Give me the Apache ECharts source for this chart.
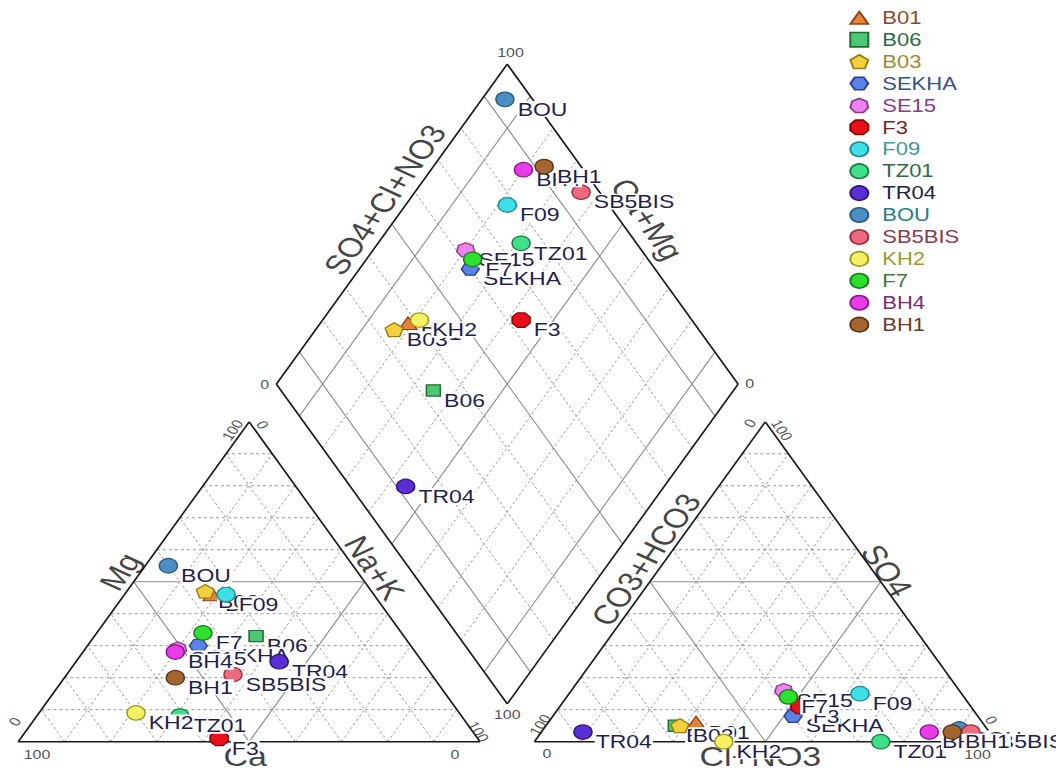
<!DOCTYPE html>
<html><head><meta charset="utf-8">
<script src="https://cdn.jsdelivr.net/npm/echarts@6/dist/echarts.min.js"></script>
<style>
html,body{margin:0;padding:0;width:1056px;height:769px;overflow:hidden;background:#fff}
#chart{width:1056px;height:961.25px;transform:scaleY(0.8);transform-origin:0 0}
</style></head><body><div id="chart"></div>
<script>
// ---- data (percent of meq) ----
const samples = ['B01','B06','B03','SEKHA','SE15','F3','F09','TZ01','TR04','BOU','SB5BIS','KH2','F7','BH4','BH1'];
// cations
const ca   = [35, 32, 36, 46, 51, 56, 32, 61, 31, 40, 43, 70, 43, 52, 56];
const mg   = [46, 33, 47, 30, 29,  1, 46,  8, 25, 55, 21,  9, 34, 28, 20];
const nak  = [19, 35, 17, 24, 20, 43, 22, 31, 44,  5, 36, 21, 23, 20, 24];
// anions
const hco3 = [62, 67, 66, 40, 38, 37, 22, 25, 88,  6,  4, 59, 38, 13,  8];
const so4  = [ 6,  5,  5,  8, 16, 11, 15,  0,  3,  4,  3,  0, 14,  3,  3];
const cl   = [32, 28, 29, 52, 46, 52, 63, 75,  9, 90, 93, 41, 48, 84, 89];
// axis texts
const cationTitles = ['Mg', 'Na+K', 'Ca'];
const anionTitles  = ['CO3+HCO3', 'SO4', 'Cl+NO3'];
const diamondTitles = ['SO4+Cl+NO3', 'Ca+Mg'];
const tickLo = '0', tickHi = '100';

// ---- styles ----
const fills   = ['#E8803A','#4CC873','#F4D03F','#5B82E8','#EE82EE','#E8101A','#3EE0E6','#3EE08A','#5B2FD6','#4A8EC4','#EE6A80','#F5F064','#2EE02E','#E83CE8','#A5652F'];
const borders = ['#8B4513','#1E6B33','#9A7D0A','#2A3F8F','#8B3A8B','#8B0000','#1F8A8F','#1F7A45','#2A1570','#2A5A80','#9A3040','#9A9A20','#1A7A1A','#8A1A8A','#5A3518'];
const txtCols = ['#8B4A2B','#2E6B40','#A08A30','#34508A','#8B3A8B','#7A2020','#3A9A9A','#2E6A4A','#222244','#2A7A8A','#8A3A4A','#9A9A30','#3A7A3A','#7A2A7A','#6A3A2A'];
const FF = 'Liberation Sans, Arial, sans-serif';

function poly(n, rot){
  let d='';
  for(let i=0;i<n;i++){const a=rot+i*2*Math.PI/n;
    d+=(i?'L':'M')+(50+50*Math.cos(a)).toFixed(2)+' '+(50+50*Math.sin(a)).toFixed(2)+' ';}
  return 'path://'+d+'Z';
}
const symbols = [poly(3,-Math.PI/2),'rect',poly(5,-Math.PI/2),poly(6,0),poly(7,-Math.PI/2),poly(8,Math.PI/8)];
const symOf = i => symbols[i] || 'circle';
const sizeOf = i => (i===1 ? 14 : 18);

// ---- geometry (side units) ----
const G = 0.118, H = Math.sqrt(3)/2, SC = 461.7, X0 = 18.3, Y0 = 927.1;
const cat = (c,m,n) => [n/100 + m/200, m/100*H];
const ani = (h,s,c) => [1+G + c/100 + s/200, s/100*H];
const dia = (u,v) => [1+G/2 + 0.5*(v-u), G*H + H*(u+v)];

const frame=[], solid=[], dashed=[];
function tri(ox){
  frame.push([ox,0,ox+1,0],[ox+1,0,ox+0.5,H],[ox+0.5,H,ox,0]);
  for(let k=1;k<10;k++){const t=k/10, arr=(k===5?solid:dashed);
    arr.push([ox+t/2,t*H,ox+1-t/2,t*H]);
    arr.push([ox+t,0,ox+t+(1-t)/2,(1-t)*H]);
    arr.push([ox+1-t,0,ox+(1-t)/2,(1-t)*H]);
  }
}
tri(0); tri(1+G);
[[0,0,1,0],[1,0,1,1],[1,1,0,1],[0,1,0,0]].forEach(e=>frame.push([...dia(e[0],e[1]),...dia(e[2],e[3])]));
for(let k=1;k<10;k++){const t=k/10, arr=(k===1||k===5||k===9)?solid:dashed;
  arr.push([...dia(t,0),...dia(t,1)]);
  arr.push([...dia(0,t),...dia(1,t)]);
}

function segSeries(data, style, z){
  return {type:'custom', coordinateSystem:'cartesian2d', data, silent:true, z, clip:false,
    renderItem(params, api){
      const p1=api.coord([api.value(0),api.value(1)]), p2=api.coord([api.value(2),api.value(3)]);
      return {type:'line', shape:{x1:p1[0],y1:p1[1],x2:p2[0],y2:p2[1]}, style};
    }};
}

// ---- annotations (axis titles and corner ticks) ----
const BL=[0,0], BR=[1,0], AP=[0.5,H], BL2=[1+G,0], BR2=[2+G,0], AP2=[1.5+G,H];
const DT=dia(1,1), DL=dia(1,0), DR=dia(0,1), DB=dia(0,0);
const off=(p,dx,dy)=>[p[0]+dx/SC, p[1]-dy/SC];
const mid=(a,b)=>[(a[0]+b[0])/2,(a[1]+b[1])/2];
const UR=[0.5,H], UL=[-0.5,H], NL=[-H,0.5], NR=[H,0.5];
const along=(p,d,a,n,nn)=>[p[0]+(a*d[0]+n*nn[0])/SC, p[1]+(a*d[1]+n*nn[1])/SC];
const annots = [
  {t:cationTitles[0], p:along(mid(BL,AP),UR,4,18,NL), r:60, fs:34},
  {t:cationTitles[1], p:along(mid(AP,BR),UL,10,17,NR), r:-60, fs:34},
  {t:cationTitles[2], p:off([0.5,0],-4,19), r:0, fs:34},
  {t:anionTitles[0], p:along(mid(BL2,AP2),UR,22,17,NL), r:60, fs:34},
  {t:anionTitles[1], p:along(mid(AP2,BR2),UL,9,12,NR), r:-60, fs:34},
  {t:anionTitles[2], p:off([1.5+G,0],-5,19), r:0, fs:34},
  {t:diamondTitles[0], p:along(mid(DL,DT),UR,23,21,NL), r:60, fs:34},
  {t:diamondTitles[1], p:along(mid(DT,DR),UL,-7,24,NR), r:-60, fs:34},
  {t:tickHi, p:off(BL,18.7,16.6), r:0, fs:16},
  {t:tickLo, p:off(BR,-25,16.6), r:0, fs:16},
  {t:tickLo, p:off(BL,-3.3,-25), r:60, fs:16},
  {t:tickHi, p:off(AP,-16.6,10.4), r:60, fs:16},
  {t:tickLo, p:off(AP,13.4,3.9), r:-60, fs:16},
  {t:tickHi, p:off(BR,-1.7,-12.5), r:-60, fs:16},
  {t:tickLo, p:off(BL2,12.4,14.6), r:0, fs:16},
  {t:tickHi, p:off(BL2,5.7,-20.9), r:60, fs:16},
  {t:tickLo, p:off(AP2,-15.3,1.9), r:60, fs:16},
  {t:tickHi, p:off(AP2,16.4,10.4), r:-60, fs:16},
  {t:tickLo, p:off(BR2,-5,-27), r:-60, fs:16},
  {t:tickHi, p:off(BR2,-18.7,16.6), r:0, fs:16},
  {t:tickHi, p:off(DT,3.3,-14.6), r:0, fs:16},
  {t:tickLo, p:off(DL,-11.7,0.6), r:0, fs:16},
  {t:tickLo, p:off(DR,11.7,0), r:0, fs:16},
  {t:tickHi, p:off(DB,0,13.1), r:0, fs:16}
];

const sampleSeries = samples.map((s,i)=>({
  type:'scatter', name:s, z:10+i, symbol:symOf(i), symbolSize:sizeOf(i), symbolKeepAspect:true, clip:false,
  itemStyle:{color:fills[i], borderColor:borders[i], borderWidth:1.5, opacity:1},
  emphasis:{disabled:true},
  label:{show:true, formatter:s, position:'right', distance:2, offset:[0,12], color:'#1f1f4f',
    fontSize:23, fontFamily:FF, backgroundColor:'#fff', lineHeight:20, padding:[0,1]},
  data:[
    cat(ca[i],mg[i],nak[i]),
    ani(hco3[i],so4[i],cl[i]),
    dia((ca[i]+mg[i])/100,(so4[i]+cl[i])/100)
  ]
}));

const chart = echarts.init(document.getElementById('chart'), null, {renderer:'svg', width:1056, height:961.25});
chart.setOption({
  animation:false,
  backgroundColor:'#fff',
  grid:{left:X0, top:Y0-(2+G)*H*SC, width:(2+G)*SC, height:(2+G)*H*SC, containLabel:false},
  xAxis:{type:'value', min:0, max:2+G, show:false},
  yAxis:{type:'value', min:0, max:(2+G)*H, show:false},
  legend:{orient:'vertical', left:844.3, top:6.2, itemWidth:18, itemHeight:18, itemGap:5.4,
    selectedMode:false,
    textStyle:{fontSize:22, lineHeight:22, fontFamily:FF, padding:[0,0,0,9]},
    data:samples.map((s,i)=>({name:s, textStyle:{color:txtCols[i]}}))},
  series:[
    segSeries(dashed,{stroke:'#8c8c8c', lineWidth:1, lineDash:[3,3], fill:null},1),
    segSeries(solid,{stroke:'#8c8c8c', lineWidth:1.2, fill:null},2),
    segSeries(frame,{stroke:'#1a1a1a', lineWidth:1.8, fill:null},3),
    {type:'scatter', z:5, silent:true, symbolSize:1, clip:false, itemStyle:{color:'rgba(0,0,0,0)'},
      label:{show:true, position:'inside', color:'#111', fontFamily:FF, formatter:p=>p.data.text},
      data:annots.map(a=>({value:a.p, text:a.t, label:{rotate:a.r, fontSize:a.fs, color:a.fs>20?'#111':'#222'}}))},
    ...sampleSeries
  ]
});
</script></body></html>
